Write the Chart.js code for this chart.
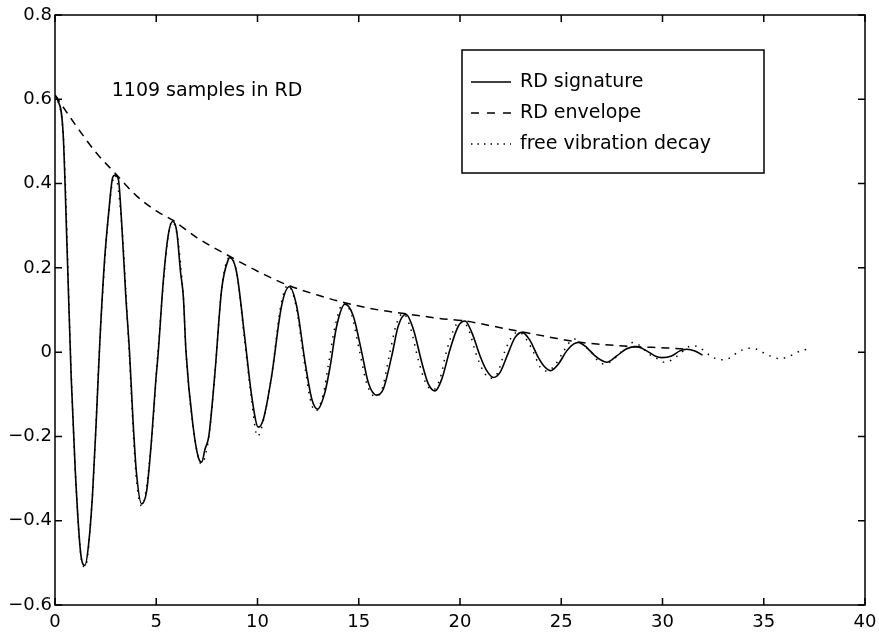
<!DOCTYPE html>
<html>
<head>
<meta charset="utf-8">
<title>RD signature</title>
<script src="https://cdn.jsdelivr.net/npm/chart.js@4.4.1/dist/chart.umd.min.js"></script>
<style>
  body { margin: 0; background: #fff; }
  #wrap { width: 879px; height: 635px; }
</style>
</head>
<body>
<div id="wrap"><canvas id="rd-chart" width="879" height="635"></canvas></div>
<script>
// time axis (s) and amplitude
var sigTime = [0, 0.12, 0.4, 0.6, 0.8, 1.0, 1.27, 1.48, 1.65, 1.85, 2.05, 2.22, 2.45, 2.65, 2.85, 2.96,
    3.13, 3.3, 3.5, 3.68, 3.85, 4.02, 4.28, 4.53, 4.77, 4.97, 5.1, 5.35, 5.6, 5.81, 6.01, 6.2, 6.34, 6.47,
    6.83, 7.08, 7.24, 7.41, 7.6, 7.9, 8.23, 8.56, 8.64, 8.97, 9.38, 9.71, 10.04, 10.29, 10.7, 11.19, 11.57,
    11.93, 12.35, 12.68, 12.97, 13.33, 13.58, 13.91, 14.32, 14.73, 15.15, 15.47, 15.88, 16.21, 16.63, 16.95,
    17.33, 17.7, 18.11, 18.44, 18.77, 19.1, 19.51, 19.92, 20.25, 20.58, 20.99, 21.32, 21.65, 21.98, 22.39,
    22.72, 23.07, 23.44, 23.87, 24.2, 24.48, 24.86, 25.27, 25.6, 25.84, 26.26, 26.67, 27.0, 27.24, 27.74,
    28.23, 28.72, 29.22, 29.63, 29.96, 30.45, 30.86, 31.19, 31.6, 31.98];
var sigValue = [0.61, 0.60, 0.52, 0.24, -0.06, -0.28, -0.478, -0.506, -0.46, -0.34, -0.15, 0.03, 0.22, 0.33, 0.415, 0.42,
    0.41, 0.30, 0.13, 0.0, -0.16, -0.285, -0.36, -0.328, -0.206, -0.072, 0.0, 0.17, 0.28, 0.31, 0.287, 0.19, 0.13, 0.0,
    -0.18, -0.25, -0.261, -0.23, -0.198, -0.048, 0.149, 0.22, 0.224, 0.189, 0.031, -0.103, -0.178, -0.159, -0.056, 0.11, 0.155,
    0.11, -0.024, -0.111, -0.135, -0.095, -0.036, 0.062, 0.114, 0.086, -0.001, -0.072, -0.102, -0.088, -0.009, 0.062,
    0.09, 0.054, -0.024, -0.076, -0.092, -0.064, 0.007, 0.062, 0.074, 0.047, -0.009, -0.044, -0.06, -0.048, -0.001,
    0.035, 0.047, 0.029, -0.013, -0.036, -0.044, -0.028, 0.003, 0.019, 0.023, 0.011, -0.009, -0.02, -0.024, -0.009,
    0.008, 0.013, 0.003, -0.009, -0.013, -0.009, 0.003, 0.007, 0.003, -0.007];

var envTime = [0, 1, 2, 2.96, 4, 5, 5.81, 7, 8.64, 10, 11.55, 13, 14.32, 16, 17.33, 19, 20.25, 22, 23.07,
    24.5, 25.84, 27.4, 28.72, 30.2, 31.2];
var envValue = [0.61, 0.54, 0.475, 0.425, 0.372, 0.335, 0.313, 0.272, 0.227, 0.192, 0.158, 0.135, 0.117, 0.1,
    0.091, 0.08, 0.074, 0.058, 0.048, 0.035, 0.024, 0.017, 0.013, 0.01, 0.007];

var freeTime = [0, 0.4, 0.78, 1.0, 1.27, 1.48, 1.85, 2.22, 2.63, 2.96, 3.3, 3.66, 4.0, 4.28, 4.77, 5.08, 5.6, 5.8,
    6.34, 6.47, 6.83, 7.22, 7.6, 7.9, 8.23, 8.62, 8.97, 9.36, 9.7, 10.0, 10.3, 10.7, 11.15, 11.5, 11.9, 12.3,
    12.6, 12.85, 13.25, 13.5, 13.85, 14.25, 14.65, 15.05, 15.4, 15.8, 16.15, 16.5, 16.85, 17.2, 17.55, 17.95,
    18.3, 18.65, 19.0, 19.35, 19.75, 20.1, 20.45, 20.8, 21.15, 21.5, 21.85, 22.2, 22.55, 22.9, 23.25, 23.6,
    23.95, 24.3, 24.7, 25.15, 25.35, 25.65, 26.05, 26.5, 26.8, 27.1, 27.45, 27.95, 28.3, 28.55, 28.9, 29.35,
    29.8, 30.1, 30.5, 30.95, 31.2, 31.45, 31.84, 32.15, 32.48, 32.84, 33.22, 33.57, 33.88, 34.27, 34.65,
    35.01, 35.37, 35.75, 36.15, 36.51, 36.87, 37.28];
var freeValue = [0.61, 0.52, -0.02, -0.28, -0.48, -0.51, -0.34, 0.03, 0.32, 0.42, 0.3, 0.0, -0.29, -0.365, -0.21, 0.0, 0.28, 0.31,
    0.13, 0.0, -0.18, -0.265, -0.2, -0.05, 0.15, 0.225, 0.19, 0.03, -0.11, -0.2, -0.16, -0.055, 0.11, 0.158, 0.11, -0.02,
    -0.11, -0.14, -0.1, -0.03, 0.065, 0.117, 0.088, 0.0, -0.075, -0.105, -0.088, -0.01, 0.065, 0.092, 0.058, -0.02,
    -0.072, -0.09, -0.065, 0.005, 0.06, 0.075, 0.05, -0.005, -0.045, -0.062, -0.05, 0.0, 0.036, 0.048, 0.032, 0.003,
    -0.035, -0.045, -0.03, 0.005, 0.02, 0.031, 0.018, -0.001, -0.02, -0.028, -0.022, 0.0, 0.018, 0.023, 0.015, -0.005,
    -0.017, -0.024, -0.017, 0.0, 0.01, 0.015, 0.011, -0.001, -0.012, -0.018, -0.016, -0.005, 0.004, 0.009, 0.007,
    -0.002, -0.01, -0.015, -0.012, -0.004, 0.004, 0.007];

var xTicks = [0, 5, 10, 15, 20, 25, 30, 35, 40];
var yTicks = [-0.6, -0.4, -0.2, 0, 0.2, 0.4, 0.6, 0.8];
var noteText = '1109 samples in RD';
var noteAt = [2.8, 0.62];

function toPoints(xs, ys) {
    return xs.map(function (t, i) { return { x: t, y: ys[i] }; });
}

var fontFamily = '"DejaVu Sans", "Liberation Sans", Arial, sans-serif';

// MATLAB-like box, inward ticks, text note and legend
var matlabFrame = {
    id: 'matlabFrame',
    afterDraw: function (chart) {
        var ctx = chart.ctx;
        var a = chart.chartArea;
        var xs = chart.scales.x;
        var ys = chart.scales.y;
        ctx.save();
        ctx.strokeStyle = '#000';
        ctx.lineWidth = 1.5;
        ctx.strokeRect(a.left, a.top, a.right - a.left, a.bottom - a.top);
        ctx.beginPath();
        xTicks.forEach(function (v) {
            var px = xs.getPixelForValue(v);
            ctx.moveTo(px, a.bottom); ctx.lineTo(px, a.bottom - 7);
            ctx.moveTo(px, a.top); ctx.lineTo(px, a.top + 7);
        });
        yTicks.forEach(function (v) {
            var py = ys.getPixelForValue(v);
            ctx.moveTo(a.left, py); ctx.lineTo(a.left + 7, py);
            ctx.moveTo(a.right, py); ctx.lineTo(a.right - 7, py);
        });
        ctx.stroke();

        ctx.fillStyle = '#000';
        ctx.font = '19px ' + fontFamily;
        ctx.textBaseline = 'middle';
        ctx.fillText(noteText, xs.getPixelForValue(noteAt[0]), ys.getPixelForValue(noteAt[1]));

        // legend box
        var lx = a.left + 407, ly = a.top + 35, lw = 302, lh = 123;
        ctx.fillStyle = '#fff';
        ctx.fillRect(lx, ly, lw, lh);
        ctx.strokeRect(lx, ly, lw, lh);
        chart.data.datasets.forEach(function (ds, i) {
            var yy = ly + 32 + i * 31;
            ctx.save();
            ctx.strokeStyle = ds.borderColor;
            ctx.lineWidth = ds.borderWidth;
            ctx.setLineDash(ds.legendDash || []);
            ctx.beginPath();
            ctx.moveTo(lx + 9, yy);
            ctx.lineTo(lx + 49, yy);
            ctx.stroke();
            ctx.restore();
            ctx.fillStyle = '#000';
            ctx.fillText(ds.label, lx + 58, yy);
        });
        ctx.restore();
    }
};

var ctx = document.getElementById('rd-chart').getContext('2d');
var chart = new Chart(ctx, {
    type: 'line',
    data: {
        datasets: [{
            label: 'RD signature',
            data: toPoints(sigTime, sigValue),
            borderColor: '#000',
            borderWidth: 1.6,
            cubicInterpolationMode: 'monotone'
        }, {
            label: 'RD envelope',
            data: toPoints(envTime, envValue),
            borderColor: '#000',
            borderWidth: 1.5,
            borderDash: [8, 6],
            legendDash: [8, 8],
            cubicInterpolationMode: 'monotone'
        }, {
            label: 'free vibration decay',
            data: toPoints(freeTime, freeValue),
            borderColor: '#000',
            borderWidth: 1.5,
            borderDash: [1.5, 6],
            legendDash: [1.5, 5],
            cubicInterpolationMode: 'monotone'
        }]
    },
    options: {
        responsive: false,
        animation: false,
        devicePixelRatio: 1,
        layout: { padding: { top: 15, right: 14, left: 0, bottom: 0 } },
        elements: { point: { radius: 0 } },
        plugins: {
            legend: { display: false },
            tooltip: { enabled: false }
        },
        scales: {
            x: {
                type: 'linear',
                min: 0,
                max: 40,
                afterFit: function (s) { s.height = 30; s.paddingLeft = 0; s.paddingRight = 0; },
                afterBuildTicks: function (s) { s.ticks = xTicks.map(function (v) { return { value: v }; }); },
                grid: { display: false, drawTicks: false },
                border: { display: false },
                ticks: {
                    color: '#000',
                    padding: 7,
                    maxRotation: 0,
                    font: { family: fontFamily, size: 18 }
                }
            },
            y: {
                type: 'linear',
                min: -0.6,
                max: 0.8,
                afterFit: function (s) { s.width = 55; s.paddingTop = 0; s.paddingBottom = 0; },
                afterBuildTicks: function (s) { s.ticks = yTicks.map(function (v) { return { value: v }; }); },
                grid: { display: false, drawTicks: false },
                border: { display: false },
                ticks: {
                    color: '#000',
                    padding: 3,
                    font: { family: fontFamily, size: 18 },
                    callback: function (v) {
                        if (v === 0) return '0';
                        return (v < 0 ? '\u2212' : '') + Math.abs(v).toFixed(1);
                    }
                }
            }
        }
    },
    plugins: [matlabFrame]
});
</script>
</body>
</html>
